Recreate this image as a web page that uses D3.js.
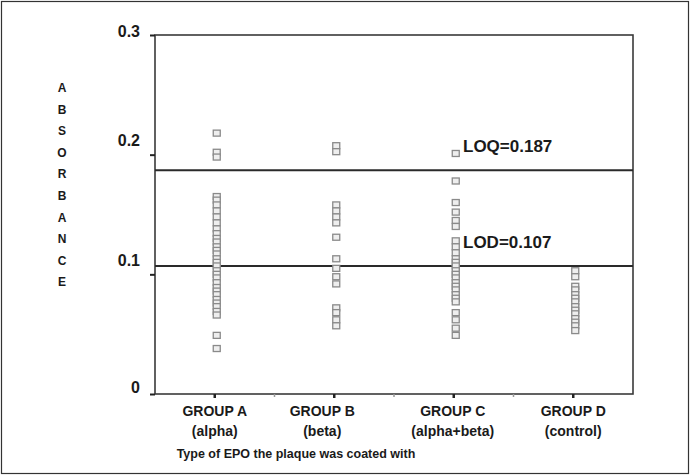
<!DOCTYPE html>
<html>
<head>
<meta charset="utf-8">
<script src="https://cdn.jsdelivr.net/npm/d3@7"></script>
<style>
  body { margin: 0; background: #fff; }
  text { font-family: 'Liberation Sans', Arial, sans-serif; font-weight: bold; fill: #1a1a1a; }
</style>
</head>
<body>
<script>
// categories + labels
const groups = ['GROUP A', 'GROUP B', 'GROUP C', 'GROUP D']
const subLabels = ['(alpha)', '(beta)', '(alpha+beta)', '(control)']
const yTicks = [0, 0.1, 0.2, 0.3]

// absorbance readings
const groupA = [0.218, 0.202, 0.198, 0.165, 0.162, 0.158, 0.153, 0.148, 0.143, 0.138,
  0.134, 0.130, 0.127, 0.123, 0.120, 0.117, 0.113, 0.110, 0.107, 0.103, 0.100, 0.097,
  0.093, 0.089, 0.086, 0.083, 0.079, 0.076, 0.073, 0.069, 0.066, 0.049, 0.038]
const groupB = [0.2075, 0.2025, 0.158, 0.153, 0.148, 0.143, 0.131, 0.113, 0.105, 0.098,
  0.092, 0.072, 0.068, 0.062, 0.057]
const groupC = [0.201, 0.178, 0.160, 0.152, 0.145, 0.140, 0.128, 0.123, 0.118, 0.113,
  0.110, 0.107, 0.103, 0.100, 0.097, 0.093, 0.090, 0.087, 0.083, 0.080, 0.077, 0.068,
  0.062, 0.055, 0.049]
const groupD = [0.103, 0.098, 0.090, 0.087, 0.083, 0.080, 0.077, 0.073, 0.070, 0.067,
  0.063, 0.060, 0.057, 0.053]

const limitNames = ['LOQ', 'LOD']
const limitValues = [0.187, 0.107]

const width = 691
const height = 475
const plotLeft = 155, plotRight = 633, plotTop = 35, plotBottom = 394

const svg = d3.select('body').append('svg')
  .attr('width', width)
  .attr('height', height)

// outer frame
svg.append('rect')
  .attr('x', 1.5).attr('y', 1.5)
  .attr('width', width - 4).attr('height', height - 3)
  .attr('fill', 'none').attr('stroke', '#333').attr('stroke-width', 1.2)

const x = d3.scaleBand().domain(groups).range([plotLeft, plotRight])
const y = d3.scaleLinear().domain([0, 0.3]).range([plotBottom, plotTop])

// plot box
svg.append('rect')
  .attr('x', plotLeft).attr('y', plotTop)
  .attr('width', plotRight - plotLeft).attr('height', plotBottom - plotTop)
  .attr('fill', 'none').attr('stroke', '#3a3a3a').attr('stroke-width', 1.6)

// y axis
const yAxis = svg.append('g')
  .attr('transform', `translate(${plotLeft},0)`)
  .call(d3.axisLeft(y).tickValues(yTicks).tickSize(5).tickPadding(10)
    .tickFormat(d => d === 0 ? '0' : d3.format('.1f')(d)))
yAxis.select('.domain').remove()
yAxis.selectAll('line').attr('stroke', '#222').attr('stroke-width', 2)
yAxis.selectAll('text')
  .style('font-size', '16px')
  .attr('dy', d => d === 0 ? '-0.1em' : d === 0.3 ? '0.1em' : '-0.55em')

// x axis ticks (dots under the categories) + faint boundary ticks
const xAxis = svg.append('g')
  .attr('transform', `translate(0,${plotBottom})`)
  .call(d3.axisBottom(x).tickSize(4).tickFormat(''))
xAxis.select('.domain').remove()
xAxis.selectAll('line').attr('stroke', '#222').attr('stroke-width', 2.5)

svg.append('g').selectAll('line')
  .data(groups.slice(1))
  .join('line')
  .attr('x1', d => x(d)).attr('x2', d => x(d))
  .attr('y1', plotBottom).attr('y2', plotBottom + 3)
  .attr('stroke', '#999').attr('stroke-width', 1.5)

const labelShift = [0, -12, -1, 0]
const lab = svg.append('g')
groups.forEach((g, i) => {
  const cx = x(g) + x.bandwidth() / 2 + labelShift[i]
  lab.append('text').attr('x', cx).attr('y', 416)
    .attr('text-anchor', 'middle').style('font-size', '14px').text(g)
  lab.append('text').attr('x', cx).attr('y', 436)
    .attr('text-anchor', 'middle').style('font-size', '14px').text(subLabels[i])
})

svg.append('text')
  .attr('x', 296).attr('y', 458)
  .attr('text-anchor', 'middle')
  .style('font-size', '12.5px')
  .text('Type of EPO the plaque was coated with')

// vertical stacked y label
const yLabel = 'ABSORBANCE'.split('')
svg.append('g').selectAll('text')
  .data(yLabel)
  .join('text')
  .attr('x', 62)
  .attr('y', (d, i) => 92 + i * 21.6)
  .attr('text-anchor', 'middle')
  .style('font-size', '12px')
  .text(d => d)

// limit lines
limitValues.forEach((v, i) => {
  svg.append('line')
    .attr('x1', plotLeft).attr('x2', plotRight)
    .attr('y1', y(v)).attr('y2', y(v))
    .attr('stroke', '#2a2a2a').attr('stroke-width', 2)
  svg.append('text')
    .attr('x', 463).attr('y', y(v) - 18)
    .style('font-size', '17px')
    .text(limitNames[i] + '=' + v)
})

// points
const series = [groupA, groupB, groupC, groupD]
const pts = series.flatMap((vals, i) => vals.map(v => ({ g: groups[i], v })))
const bw = 7, bh = 6
svg.append('g').selectAll('rect')
  .data(pts)
  .join('rect')
  .attr('x', d => x(d.g) + x.bandwidth() / 2 - bw / 2 + 2)
  .attr('y', d => y(d.v) - bh / 2)
  .attr('width', bw).attr('height', bh)
  .attr('fill', '#eeeeee')
  .attr('stroke', '#8a8a8a')
  .attr('stroke-width', 1.3)
</script>
</body>
</html>
